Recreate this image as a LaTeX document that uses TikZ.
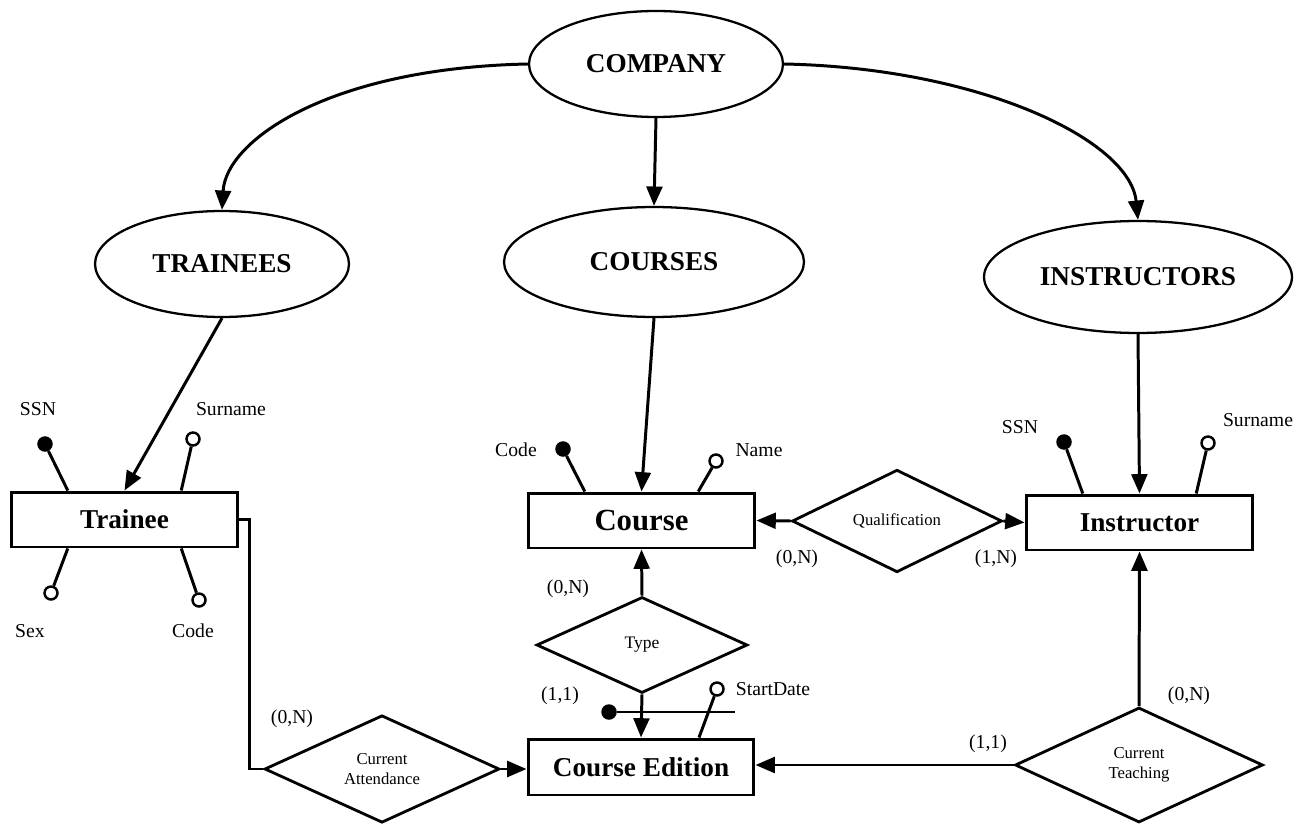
\documentclass[tikz,border=0pt]{standalone}
\usepackage{fontspec}
\setmainfont{Liberation Serif}
\usetikzlibrary{shapes.geometric,arrows.meta}

\begin{document}
\begin{tikzpicture}[
  x=0.02cm, y=-0.02cm,
  grp/.style={ellipse, draw, line width=1.3pt, inner sep=0pt, minimum width=5.08cm, minimum height=2.12cm, font=\fontsize{15.5}{18}\selectfont\bfseries},
  ent/.style={rectangle, draw, line width=1.7pt, inner sep=0pt, minimum width=4.54cm, minimum height=1.1cm, font=\fontsize{15.5}{18}\selectfont\bfseries},
  rel/.style={diamond, draw, line width=1.6pt, inner sep=0pt, align=center, font=\fontsize{9.5}{11.5}\selectfont},
  lbl/.style={inner sep=0pt, font=\fontsize{11.2}{13}\selectfont},
  key/.style={circle, draw, fill=black, line width=1.4pt, inner sep=0pt, minimum size=0.26cm},
  opt/.style={circle, draw, fill=white, line width=1.4pt, inner sep=0pt, minimum size=0.26cm},
  fl/.style={-{Triangle[length=11pt,width=9pt]}, line width=1.7pt},
  ln/.style={line width=1.7pt}
]
\useasboundingbox (0,0) rectangle (1305,824);

% groups
\node[grp] (company) at (656,64) {COMPANY};
\node[grp] (trainees) at (222,264) {TRAINEES};
\node[grp, minimum width=6cm, minimum height=2.2cm] (courses) at (654,262) {COURSES};
\node[grp, minimum width=6.16cm, minimum height=2.24cm] (instructors) at (1138,277) {INSTRUCTORS};

% entities
\node[ent] (trainee) at (124.5,519.5) {Trainee};
\node[ent, font=\fontsize{17.5}{20}\selectfont\bfseries] (course) at (641.5,520.5) {Course};
\node[ent] (instructor) at (1139.5,522.5) {Instructor};
\node[ent, minimum width=4.52cm, minimum height=1.12cm] (cedition) at (641,767) {Course Edition};

% relationships
\node[rel, minimum width=4.2cm, minimum height=1.94cm] (qual) at (897,521) {Qualification};
\node[rel, minimum width=4.22cm, minimum height=1.92cm, font=\fontsize{10}{12}\selectfont] (type) at (642,645) {Type};
\node[rel, minimum width=4.7cm, minimum height=2.12cm] (attend) at (382,769) {Current\\Attendance};
\node[rel, minimum width=4.96cm, minimum height=2.3cm] (teach) at (1139,765) {Current\\Teaching};

\draw[fl] (company.west) .. controls (330,68) and (226,140) .. (trainees.north);
\draw[fl] (company.south) -- (courses.north);
\draw[fl] (company.east) .. controls (980,68) and (1130,140) .. (instructors.north);
\draw[fl] (trainees.south) -- (trainee.north);
\draw[fl] (courses.south) -- (course.north);
\draw[fl] (instructors.south) -- (instructor.north);

% Trainee attributes
\node[key] (tssn) at (45,444) {};
\node[opt] (tsur) at (193,439) {};
\node[opt] (tsex) at (51,593) {};
\node[opt] (tcode) at (199,600) {};
\draw[ln] ([xshift=-1.135cm]trainee.north) -- (tssn);
\draw[ln] ([xshift=1.135cm]trainee.north) -- (tsur);
\draw[ln] ([xshift=-1.135cm]trainee.south) -- (tsex);
\draw[ln] ([xshift=1.135cm]trainee.south) -- (tcode);
\node[lbl] at (38,409) {SSN};
\node[lbl] at (231,409) {Surname};
\node[lbl] at (30,631) {Sex};
\node[lbl] at (193,631) {Code};

% Course attributes
\node[key] (ccode) at (563,449) {};
\node[opt] (cname) at (716,461) {};
\draw[ln] ([xshift=-1.135cm]course.north) -- (ccode);
\draw[ln] ([xshift=1.135cm]course.north) -- (cname);
\node[lbl] at (516,450) {Code};
\node[lbl] at (759,450) {Name};

% Instructor attributes
\node[key] (issn) at (1064,442) {};
\node[opt] (isur) at (1208,443) {};
\draw[ln] ([xshift=-1.135cm]instructor.north) -- (issn);
\draw[ln] ([xshift=1.135cm]instructor.north) -- (isur);
\node[lbl] at (1020,427) {SSN};
\node[lbl] at (1258,420) {Surname};

% Course Edition identifier and attribute
\node[key] (ceid) at (609,712) {};
\coordinate (idend) at (735,712);
\draw[ln] (ceid) -- (idend);
\node[opt] (cstart) at (717,689) {};
\draw[ln] ([xshift=1.16cm]cedition.north) -- (cstart);
\node[lbl] at (773,689) {StartDate};

% relationship links
\draw[fl] (qual.west) -- (course.east);
\draw[fl] (qual.east) -- (instructor.west);
\draw[fl] (type.north) -- (course.south);
\draw[fl] (type.south) -- (cedition.north);
\draw[ln] (trainee.east) -- ++(10,0) |- (attend.west);
\draw[fl] (attend.east) -- (attend.east -| cedition.west);
\draw[fl] (teach.west) -- (teach.west -| cedition.east);
\draw[fl] (teach.north) -- (instructor.south);

% cardinalities
\node[lbl] at (568,589) {(0,N)};
\node[lbl] at (560,696) {(1,1)};
\node[lbl] at (797,559) {(0,N)};
\node[lbl] at (996,559) {(1,N)};
\node[lbl] at (292,719) {(0,N)};
\node[lbl] at (988,744) {(1,1)};
\node[lbl] at (1189,696) {(0,N)};
\end{tikzpicture}
\end{document}
